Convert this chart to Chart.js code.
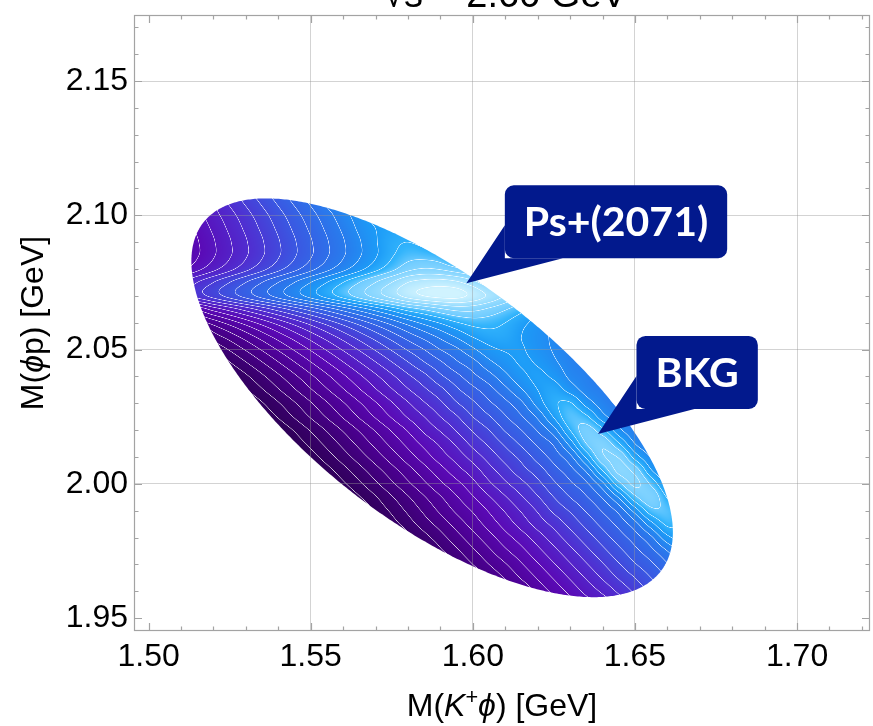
<!DOCTYPE html>
<html lang="en">
<head>
<meta charset="UTF-8">
<title>Dalitz plot: M(K+φ) vs M(φp)</title>
<script src="https://cdn.jsdelivr.net/npm/chart.js@4.4.1/dist/chart.umd.min.js"></script>
<style>
  html, body { margin: 0; padding: 0; background: #fff; }
  #wrap { width: 873px; height: 726px; }
</style>
</head>
<body>
<div id="wrap"><canvas id="dalitz" width="873" height="726"></canvas></div>
<script>
// K+ phi p final state at sqrt(s) = 2.60 GeV
var sqrtS = 2.60;
var mK = 0.4937, mPhi = 1.0195, mP = 0.9383;

// axis ticks [GeV]
var m12Ticks = [1.50, 1.55, 1.60, 1.65, 1.70];
var m23Ticks = [1.95, 2.00, 2.05, 2.10, 2.15];

// intensity on a 5 MeV grid: one row per M(phi p), first point of each row at rowStart M(K+phi)
var gridStep = 0.005;
var rowM23 = [2.105, 2.100, 2.095, 2.090, 2.085, 2.080, 2.075, 2.070, 2.065, 2.060,
              2.055, 2.050, 2.045, 2.040, 2.035, 2.030, 2.025, 2.020, 2.015, 2.010,
              2.005, 2.000, 1.995, 1.990, 1.985, 1.980, 1.975, 1.970, 1.965, 1.960];
var rowStart = [1.525, 1.515, 1.515, 1.510, 1.510, 1.510, 1.510, 1.510, 1.515, 1.515,
                1.520, 1.520, 1.525, 1.525, 1.530, 1.530, 1.535, 1.540, 1.545, 1.550,
                1.550, 1.555, 1.560, 1.570, 1.575, 1.580, 1.590, 1.595, 1.605, 1.620];
var intensity = [
  [12.2, 13.2, 14.2, 15.2, 16.2, 17.2],
  [9.6, 10.6, 11.6, 12.6, 13.6, 14.6, 15.6, 16.6, 17.6, 18.6, 19.5],
  [9.2, 10.2, 11.2, 12.2, 13.2, 14.2, 15.2, 16.2, 17.2, 18.2, 19.2, 20.0, 20.4],
  [7.9, 8.9, 9.9, 10.9, 11.9, 12.9, 13.9, 14.9, 15.9, 16.9, 17.9, 18.9, 19.9, 20.7, 21.0, 20.6],
  [7.9, 8.9, 9.9, 10.9, 11.9, 12.9, 13.9, 14.9, 15.9, 16.9, 17.9, 18.9, 19.9, 20.9, 21.6, 21.6, 21.2],
  [8.7, 9.7, 10.7, 11.7, 12.7, 13.7, 14.7, 15.7, 16.7, 17.7, 18.7, 19.7, 20.7, 21.7, 22.7, 23.1, 22.9, 22.3, 21.6],
  [11.0, 12.0, 13.0, 14.0, 15.0, 16.0, 17.0, 18.0, 19.0, 20.0, 21.0, 22.0, 23.0, 24.0, 25.0, 25.4, 25.5, 25.2, 24.4, 23.4],
  [11.4, 12.4, 13.4, 14.4, 15.4, 16.4, 17.4, 18.4, 19.4, 20.4, 21.4, 22.4, 23.4, 24.4, 25.4, 26.0, 26.3, 26.3, 25.7, 24.8, 23.9],
  [8.4, 9.4, 10.4, 11.4, 12.4, 13.4, 14.4, 15.4, 16.4, 17.4, 18.4, 19.4, 20.4, 21.4, 22.1, 22.8, 23.3, 23.3, 22.8, 22.1, 21.3],
  [5.4, 6.4, 7.4, 8.4, 9.4, 10.4, 11.4, 12.4, 13.4, 14.4, 15.4, 16.4, 17.4, 18.4, 19.3, 20.1, 20.9, 21.4, 21.4, 21.0, 20.3, 19.6],
  [4.5, 5.5, 6.5, 7.5, 8.5, 9.5, 10.5, 11.5, 12.5, 13.5, 14.5, 15.5, 16.5, 17.4, 18.3, 19.2, 20.1, 20.6, 20.6, 20.0, 19.4, 18.8],
  [3.1, 4.1, 5.1, 6.1, 7.1, 8.1, 9.1, 10.1, 11.1, 12.1, 13.1, 14.1, 15.1, 16.0, 17.0, 17.8, 18.8, 19.7, 20.1, 20.1, 19.5, 18.9, 18.3],
  [2.9, 3.9, 4.9, 5.9, 6.9, 7.9, 8.9, 9.9, 10.9, 11.9, 12.9, 13.9, 14.9, 15.8, 16.8, 17.6, 18.7, 19.5, 20.1, 19.9, 19.2, 18.5, 18.0],
  [1.8, 2.8, 3.8, 4.8, 5.8, 6.8, 7.8, 8.8, 9.8, 10.8, 11.8, 12.8, 13.7, 14.8, 15.7, 16.7, 17.6, 18.7, 19.7, 20.2, 19.8, 18.8, 18.3, 17.7],
  [1.9, 2.9, 3.9, 4.9, 5.9, 6.9, 7.9, 8.9, 9.9, 10.9, 11.9, 12.8, 13.7, 14.8, 15.7, 16.6, 17.7, 18.9, 20.0, 20.5, 19.6, 18.6, 18.1],
  [0.9, 1.9, 2.9, 3.9, 4.9, 5.9, 6.9, 7.9, 8.9, 9.9, 10.9, 11.9, 12.8, 13.9, 14.8, 15.8, 16.7, 17.8, 19.4, 20.8, 21.1, 19.6, 18.5, 17.8],
  [1.1, 2.1, 3.1, 4.1, 5.1, 6.1, 7.1, 8.1, 9.1, 10.1, 11.0, 12.0, 12.9, 14.0, 14.9, 15.9, 16.9, 18.2, 20.1, 21.7, 21.2, 19.4, 18.3, 17.7],
  [1.1, 2.1, 3.1, 4.1, 5.1, 6.1, 7.1, 8.1, 9.1, 10.2, 11.1, 12.1, 13.1, 14.0, 15.1, 16.0, 17.1, 18.6, 21.0, 22.4, 21.3, 19.3, 18.1],
  [1.3, 2.3, 3.3, 4.3, 5.3, 6.3, 7.3, 8.3, 9.3, 10.2, 11.2, 12.3, 13.2, 14.2, 15.2, 16.2, 17.2, 19.4, 22.0, 22.8, 21.1, 19.0, 17.9],
  [1.5, 2.5, 3.5, 4.5, 5.5, 6.5, 7.5, 8.5, 9.5, 10.4, 11.4, 12.4, 13.4, 14.3, 15.4, 16.4, 17.7, 20.2, 22.8, 22.9, 20.6, 18.9],
  [0.6, 1.6, 2.6, 3.6, 4.6, 5.6, 6.6, 7.6, 8.6, 9.6, 10.5, 11.6, 12.6, 13.6, 14.5, 15.6, 16.6, 18.2, 21.0, 23.3, 22.6, 20.1, 18.5],
  [0.8, 1.8, 2.8, 3.8, 4.8, 5.8, 6.8, 7.8, 8.7, 9.7, 10.8, 11.8, 12.7, 13.7, 14.8, 15.8, 16.8, 18.7, 21.6, 23.2, 21.8, 19.5],
  [0.9, 1.9, 2.9, 3.9, 4.9, 5.9, 6.9, 7.9, 8.9, 9.9, 10.9, 11.9, 12.9, 14.0, 15.0, 15.9, 17.1, 19.1, 21.7, 22.7, 20.9],
  [2.2, 3.2, 4.2, 5.2, 6.2, 7.2, 8.1, 9.1, 10.1, 11.1, 12.1, 13.2, 14.1, 15.1, 16.1, 17.3, 19.4, 21.6, 21.7, 20.2],
  [2.5, 3.5, 4.5, 5.4, 6.4, 7.4, 8.4, 9.4, 10.4, 11.4, 12.3, 13.3, 14.3, 15.3, 16.3, 17.6, 19.6, 21.2, 20.8],
  [2.6, 3.6, 4.6, 5.6, 6.6, 7.6, 8.6, 9.5, 10.5, 11.5, 12.5, 13.5, 14.5, 15.5, 16.5, 17.8, 19.7, 20.6],
  [3.8, 4.8, 5.8, 6.8, 7.8, 8.7, 9.7, 10.7, 11.7, 12.7, 13.7, 14.7, 15.7, 16.7, 18.0, 19.5],
  [4.0, 5.0, 6.0, 6.9, 7.9, 8.9, 9.9, 10.9, 11.9, 12.9, 13.9, 14.9, 15.8, 16.9],
  [5.1, 6.1, 7.1, 8.1, 9.1, 10.1, 11.1, 12.1, 13.1, 14.0, 15.0, 16.0],
  [7.3, 8.3, 9.3, 10.3, 11.2, 12.2, 13.2]
];

// contour levels drawn as white lines
var contourLevels = [1, 2, 3, 4, 5, 6, 7, 8, 9, 10, 11, 12, 13, 14, 15, 16, 17, 18, 19, 20, 21, 22, 23, 24, 25, 26];

// callouts: label and the point the arrow touches
var calloutText = ['Ps+(2071)', 'BKG'];
var calloutM12 = [1.598, 1.6386];
var calloutM23 = [2.0747, 2.0186];

// colour ramp: level -> rgb
var palette = [
  [0.5, 42, 0, 78],
  [3, 55, 0, 105],
  [6, 75, 0, 145],
  [9, 90, 10, 182],
  [12, 80, 45, 208],
  [15, 58, 88, 226],
  [18, 40, 124, 237],
  [20, 28, 155, 247],
  [21.2, 50, 180, 252],
  [22.2, 115, 205, 255],
  [24, 150, 220, 255],
  [26.3, 208, 243, 255]
];

var axisFont = 'Liberation Sans, Arial, sans-serif';
var frameColor = '#a3a3a3';
var gridColor = 'rgba(150,150,150,0.42)';
var calloutColor = '#02198d';

// ---- grid with a margin ring, gaps filled by linear extrapolation ----
var colX0 = 1.505, rowY0 = 2.110, nCols = 34, nRows = 32;
var M = [];
(function buildGrid() {
  var i, j;
  for (j = 0; j < nRows; j++) { M.push([]); for (i = 0; i < nCols; i++) M[j].push(null); }
  rowM23.forEach(function (y, r) {
    var jj = Math.round((rowY0 - y) / gridStep);
    var i0 = Math.round((rowStart[r] - colX0) / gridStep);
    intensity[r].forEach(function (v, k) { M[jj][i0 + k] = v; });
  });
  function at(g, a, b) { return (a < 0 || b < 0 || a >= nRows || b >= nCols) ? null : g[a][b]; }
  var dirs = [[0, 1], [0, -1], [1, 0], [-1, 0]];
  for (var pass = 0; pass < 60; pass++) {
    var next = M.map(function (r) { return r.slice(); });
    var left = 0;
    for (j = 0; j < nRows; j++) for (i = 0; i < nCols; i++) {
      if (M[j][i] !== null) continue;
      var sum = 0, n = 0;
      dirs.forEach(function (d) {
        var a = at(M, j + d[0], i + d[1]), b = at(M, j + 2 * d[0], i + 2 * d[1]);
        if (a !== null && b !== null) { sum += 2 * a - b; n++; }
      });
      if (!n) {
        for (var dj = -1; dj <= 1; dj++) for (var di = -1; di <= 1; di++) {
          var c = at(M, j + dj, i + di);
          if (c !== null) { sum += c; n++; }
        }
      }
      if (n) next[j][i] = sum / n; else left++;
    }
    M = next;
    if (!left) break;
  }
})();

function cr(p0, p1, p2, p3, t) {
  return p1 + 0.5 * t * (p2 - p0 + t * (2 * p0 - 5 * p1 + 4 * p2 - p3 + t * (3 * (p1 - p2) + p3 - p0)));
}
function clampI(v, a, b) { return v < a ? a : (v > b ? b : v); }

function sampleGrid(x, y) {
  var gx = (x - colX0) / gridStep, gy = (rowY0 - y) / gridStep;
  var i = Math.floor(gx), j = Math.floor(gy), tx = gx - i, ty = gy - j;
  var col = [];
  for (var m = -1; m <= 2; m++) {
    var row = M[clampI(j + m, 0, nRows - 1)];
    col.push(cr(row[clampI(i - 1, 0, nCols - 1)], row[clampI(i, 0, nCols - 1)],
                row[clampI(i + 1, 0, nCols - 1)], row[clampI(i + 2, 0, nCols - 1)], tx));
  }
  return cr(col[0], col[1], col[2], col[3], ty);
}

function colorAt(v) {
  if (v <= palette[0][0]) return palette[0].slice(1);
  for (var k = 1; k < palette.length; k++) {
    if (v <= palette[k][0]) {
      var a = palette[k - 1], b = palette[k], t = (v - a[0]) / (b[0] - a[0]);
      return [a[1] + (b[1] - a[1]) * t, a[2] + (b[2] - a[2]) * t, a[3] + (b[3] - a[3]) * t];
    }
  }
  return palette[palette.length - 1].slice(1);
}

// kinematic limits of M(phi p) for a given M(K+ phi)
function m23Range(m12) {
  var s12 = m12 * m12;
  var e2 = (s12 - mK * mK + mPhi * mPhi) / (2 * m12);
  var e3 = (sqrtS * sqrtS - s12 - mP * mP) / (2 * m12);
  var p2 = Math.sqrt(Math.max(e2 * e2 - mPhi * mPhi, 0));
  var p3 = Math.sqrt(Math.max(e3 * e3 - mP * mP, 0));
  var e = (e2 + e3) * (e2 + e3);
  return [Math.sqrt(e - (p2 + p3) * (p2 + p3)), Math.sqrt(e - (p2 - p3) * (p2 - p3))];
}

function boundaryPath(ctx, xs, ys) {
  var lo = mK + mPhi, hi = sqrtS - mP, N = 300, k, m, r;
  ctx.beginPath();
  for (k = 0; k <= N; k++) {
    m = lo + (hi - lo) * (1 - Math.cos(Math.PI * k / N)) / 2;
    r = m23Range(m);
    if (k === 0) ctx.moveTo(xs.getPixelForValue(m), ys.getPixelForValue(r[1]));
    else ctx.lineTo(xs.getPixelForValue(m), ys.getPixelForValue(r[1]));
  }
  for (k = N; k >= 0; k--) {
    m = lo + (hi - lo) * (1 - Math.cos(Math.PI * k / N)) / 2;
    r = m23Range(m);
    ctx.lineTo(xs.getPixelForValue(m), ys.getPixelForValue(r[0]));
  }
  ctx.closePath();
}

function drawDensity(chart) {
  var ctx = chart.ctx, xs = chart.scales.x, ys = chart.scales.y;
  var x0 = Math.floor(xs.getPixelForValue(mK + mPhi)) - 3, x1 = Math.ceil(xs.getPixelForValue(sqrtS - mP)) + 3;
  var y0 = Math.floor(ys.getPixelForValue(sqrtS - mK)) - 3, y1 = Math.ceil(ys.getPixelForValue(mPhi + mP)) + 3;
  var W = x1 - x0, H = y1 - y0, i, j, k;
  var cx = [], cy = [];
  for (i = 0; i < W; i++) cx.push(xs.getValueForPixel(x0 + i + 0.5));
  for (j = 0; j < H; j++) cy.push(ys.getValueForPixel(y0 + j + 0.5));
  var F = new Float32Array(W * H);
  for (j = 0; j < H; j++) for (i = 0; i < W; i++) F[j * W + i] = sampleGrid(cx[i], cy[j]);

  var off = document.createElement('canvas');
  off.width = W; off.height = H;
  var octx = off.getContext('2d');
  var img = octx.createImageData(W, H), d = img.data;
  var lev0 = contourLevels[0], lev1 = contourLevels[contourLevels.length - 1];
  for (j = 0; j < H; j++) for (i = 0; i < W; i++) {
    k = j * W + i;
    var v = F[k];
    var il = i > 0 ? i - 1 : i, ir = i < W - 1 ? i + 1 : i;
    var ju = j > 0 ? j - 1 : j, jd = j < H - 1 ? j + 1 : j;
    var gx = (F[j * W + ir] - F[j * W + il]) / Math.max(ir - il, 1);
    var gy = (F[jd * W + i] - F[ju * W + i]) / Math.max(jd - ju, 1);
    var g = Math.sqrt(gx * gx + gy * gy) + 1e-6;
    var c = colorAt(v), a = 0, lev = Math.round(v);
    if (lev >= lev0 && lev <= lev1) {
      var dist = Math.abs(v - lev) / g;
      a = Math.max(0, Math.min(1, 1.05 - dist / 0.55)) * 0.8;
    }
    d[4 * k] = c[0] + (255 - c[0]) * a;
    d[4 * k + 1] = c[1] + (255 - c[1]) * a;
    d[4 * k + 2] = c[2] + (255 - c[2]) * a;
    d[4 * k + 3] = 255;
  }
  octx.putImageData(img, 0, 0);
  ctx.save();
  boundaryPath(ctx, xs, ys);
  ctx.clip();
  ctx.drawImage(off, x0, y0);
  ctx.restore();
}

function drawFrame(chart) {
  var ctx = chart.ctx, a = chart.chartArea, xs = chart.scales.x, ys = chart.scales.y, k, p, len;
  ctx.save();
  ctx.strokeStyle = frameColor;
  ctx.lineWidth = 1.2;
  ctx.strokeRect(a.left + 0.5, a.top + 0.5, a.right - a.left - 1, a.bottom - a.top - 1);
  ctx.beginPath();
  for (k = 150; k <= 172; k++) {
    p = Math.round(xs.getPixelForValue(k / 100)) + 0.5;
    len = (k % 5 === 0) ? 8 : 4.5;
    ctx.moveTo(p, a.bottom); ctx.lineTo(p, a.bottom - len);
    ctx.moveTo(p, a.top); ctx.lineTo(p, a.top + len);
  }
  for (k = 195; k <= 217; k++) {
    p = Math.round(ys.getPixelForValue(k / 100)) + 0.5;
    len = (k % 5 === 0) ? 8 : 4.5;
    ctx.moveTo(a.left, p); ctx.lineTo(a.left + len, p);
    ctx.moveTo(a.right, p); ctx.lineTo(a.right - len, p);
  }
  ctx.stroke();
  ctx.restore();
}

// mixed-style text: 0 upright, 1 italic, 2 superscript
function styledWidth(ctx, parts, size) {
  var w = 0;
  parts.forEach(function (p) {
    ctx.font = (p[1] === 1 ? 'italic ' : '') + (p[1] === 2 ? size * 0.68 : size) + 'px ' + axisFont;
    w += ctx.measureText(p[0]).width;
  });
  return w;
}
function drawStyled(ctx, parts, size, x, y) {
  parts.forEach(function (p) {
    ctx.font = (p[1] === 1 ? 'italic ' : '') + (p[1] === 2 ? size * 0.68 : size) + 'px ' + axisFont;
    ctx.fillText(p[0], x, p[1] === 2 ? y - size * 0.38 : y);
    x += ctx.measureText(p[0]).width;
  });
}

function drawTitles(chart) {
  var ctx = chart.ctx, a = chart.chartArea;
  var cxm = (a.left + a.right) / 2, cym = (a.top + a.bottom) / 2;
  var xParts = [['M(', 0], ['K', 1], ['+', 2], ['\u03d5', 1], [') [GeV]', 0]];
  var yParts = [['M(', 0], ['\u03d5', 1], ['p) [GeV]', 0]];
  ctx.save();
  ctx.fillStyle = '#000';
  ctx.textBaseline = 'alphabetic';
  ctx.textAlign = 'left';
  drawStyled(ctx, xParts, 32, cxm - styledWidth(ctx, xParts, 32) / 2, 716);
  ctx.save();
  ctx.translate(43, cym);
  ctx.rotate(-Math.PI / 2);
  drawStyled(ctx, yParts, 32, -styledWidth(ctx, yParts, 32) / 2, 0);
  ctx.restore();
  ctx.font = '38px ' + axisFont;
  ctx.textAlign = 'center';
  ctx.fillText('\u221as = ' + sqrtS.toFixed(2) + ' GeV', cxm + 3, 7);
  ctx.restore();
}

function drawCallouts(chart) {
  var ctx = chart.ctx, xs = chart.scales.x, ys = chart.scales.y;
  ctx.save();
  ctx.font = 'bold 41px Lato, "Open Sans", sans-serif';
  calloutText.forEach(function (txt, n) {
    var tx = xs.getPixelForValue(calloutM12[n]), ty = ys.getPixelForValue(calloutM23[n]);
    var w = ctx.measureText(txt).width + 38, h = 73;
    var bx = tx + 38.5, by = ty - 98, r = 9;
    ctx.fillStyle = calloutColor;
    ctx.beginPath();
    ctx.moveTo(bx + r, by);
    ctx.lineTo(bx + w - r, by); ctx.arcTo(bx + w, by, bx + w, by + r, r);
    ctx.lineTo(bx + w, by + h - r); ctx.arcTo(bx + w, by + h, bx + w - r, by + h, r);
    ctx.lineTo(bx + r, by + h); ctx.arcTo(bx, by + h, bx, by + h - r, r);
    ctx.lineTo(bx, by + r); ctx.arcTo(bx, by, bx + r, by, r);
    ctx.closePath();
    ctx.fill();
    ctx.beginPath();
    ctx.moveTo(bx, by + 40);
    ctx.lineTo(tx, ty);
    ctx.lineTo(bx + 58, by + h);
    ctx.lineTo(bx, by + h);
    ctx.closePath();
    ctx.fill();
    ctx.fillStyle = '#fff';
    ctx.textAlign = 'center';
    ctx.textBaseline = 'middle';
    ctx.fillText(txt, bx + w / 2, by + h / 2 + 1);
  });
  ctx.restore();
}

var dalitzPlugin = {
  id: 'dalitz',
  beforeDraw: drawDensity,
  afterDatasetsDraw: drawFrame,
  afterDraw: function (chart) { drawTitles(chart); drawCallouts(chart); }
};

function hideAt(v0, color) {
  return function (c) { return (c.tick && Math.abs(c.tick.value - v0) < 1e-6) ? 'rgba(0,0,0,0)' : color; };
}

new Chart(document.getElementById('dalitz'), {
  type: 'scatter',
  data: { datasets: [] },
  options: {
    responsive: false,
    animation: false,
    devicePixelRatio: 1,
    layout: { padding: { left: 0, right: 3, top: 15, bottom: 0 } },
    plugins: { legend: { display: false }, tooltip: { enabled: false }, title: { display: false } },
    scales: {
      x: {
        type: 'linear', position: 'bottom', min: 1.4955, max: 1.7225,
        afterBuildTicks: function (s) { s.ticks = m12Ticks.map(function (v) { return { value: v }; }); },
        afterFit: function (s) { s.height = 95; s.paddingLeft = 0; s.paddingRight = 0; },
        ticks: { font: { family: axisFont, size: 32 }, color: '#000', padding: 7, maxRotation: 0, autoSkip: false,
                 callback: function (v) { return v.toFixed(2); } },
        grid: { drawTicks: false, lineWidth: 1, color: hideAt(1.50, gridColor) },
        border: { display: false }
      },
      y: {
        type: 'linear', position: 'left', min: 1.9452, max: 2.1746,
        afterBuildTicks: function (s) { s.ticks = m23Ticks.map(function (v) { return { value: v }; }); },
        afterFit: function (s) { s.width = 134; s.paddingTop = 0; s.paddingBottom = 0; },
        ticks: { font: { family: axisFont, size: 32 }, color: '#000', padding: 6, autoSkip: false,
                 callback: function (v) { return v.toFixed(2); } },
        grid: { drawTicks: false, lineWidth: 1, color: hideAt(1.95, gridColor) },
        border: { display: false }
      }
    }
  },
  plugins: [dalitzPlugin]
});
</script>
</body>
</html>
